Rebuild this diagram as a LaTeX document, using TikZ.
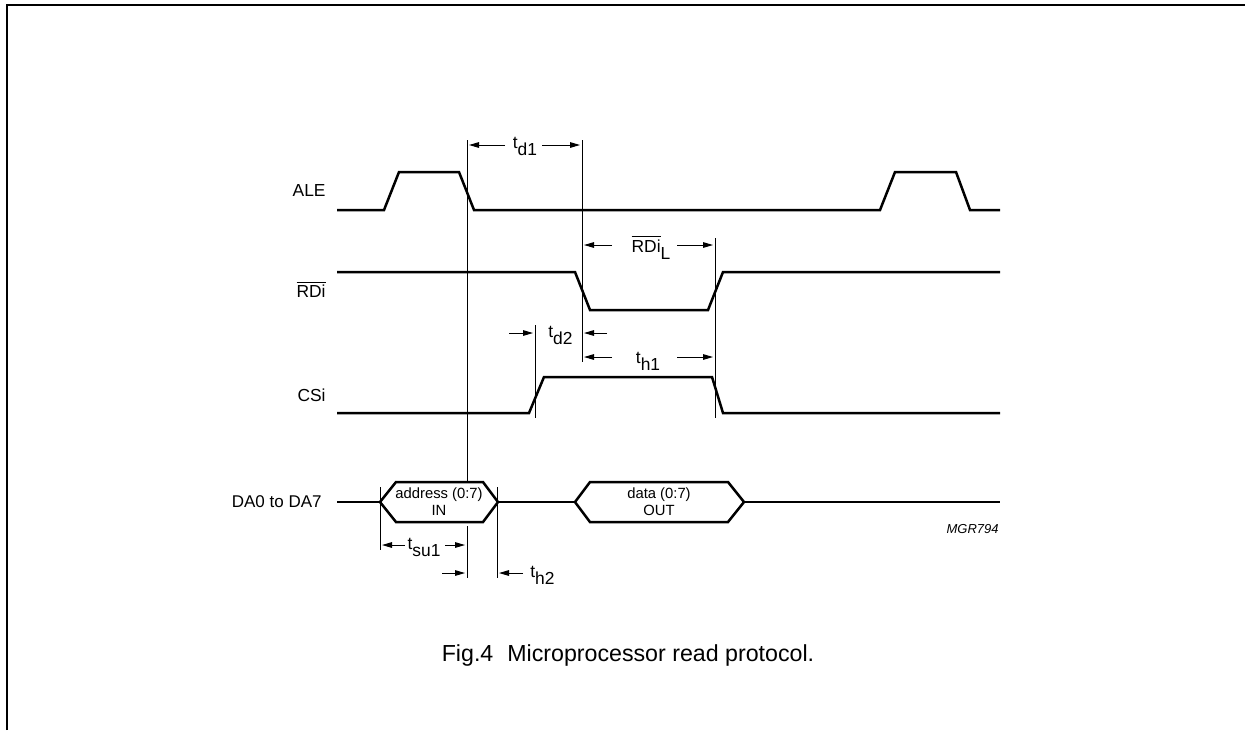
\documentclass[tikz,border=0pt]{standalone}
\usepackage{fontspec}
\setmainfont{Liberation Sans}
\usetikzlibrary{arrows.meta}
\newcommand\lowsub[1]{\raisebox{-0.42em}{#1}}
\begin{document}
\begin{tikzpicture}[x=0.5pt,y=-0.5pt,
  sig/.style={line width=1.25pt, line join=miter},
  guide/.style={line width=0.45pt},
  dim/.style={line width=0.5pt,-{Triangle[length=5pt,width=2.8pt]}},
  lab/.style={font=\fontsize{8.7}{10}\selectfont, inner sep=0pt},
  bus/.style={font=\fontsize{7.4}{8.6}\selectfont, inner sep=0pt, align=center},
  drawingid/.style={font=\fontsize{6.5}{8}\selectfont\itshape, inner sep=0pt},
  capt/.style={font=\fontsize{11.6}{13}\selectfont, inner sep=0pt}]
\useasboundingbox (0,0) rectangle (1245,730);
\draw[line width=1pt] (7,730) -- (7,5) -- (1245,5);

% signal names
\node[lab, anchor=east] (ale) at (326,191) {ALE};
\node[lab, anchor=east] (rdi) at (326,289) {$\overline{\mbox{RDi}}$};
\node[lab, anchor=east] (csi) at (326,395) {CSi};
\node[lab, anchor=east, font=\fontsize{8.5}{10}\selectfont] (da) at (322,502) {DA0 to DA7};

% waveforms
\draw[sig] (337,210) -- (384,210) -- (399,172) -- (459,172) -- (474,210) -- (880,210) -- (895,172) -- (956,172) -- (970,210) -- (1000,210);
\draw[sig] (337,272) -- (575,272) -- (590,310) -- (708,310) -- (723,272) -- (1000,272);
\draw[sig] (337,413) -- (529,413) -- (544,377) -- (712,377) -- (723,413) -- (1000,413);
\draw[sig] (337,502) -- (380,502);
\draw[sig] (380,502) -- (396,482) -- (483,482) -- (498,502) -- (483,522) -- (396,522) -- cycle;
\draw[sig] (498,502) -- (575,502);
\draw[sig] (575,502) -- (590,482) -- (728,482) -- (744,502) -- (728,522) -- (590,522) -- cycle;
\draw[sig] (744,502) -- (1000,502);
\node[bus] (addr) at (439,502) {address (0:7)\\IN};
\node[bus] (data) at (659,502) {data (0:7)\\OUT};

% guide lines
\draw[guide] (467,140) -- (467,482);
\draw[guide] (467,526) -- (467,578);
\draw[guide] (582,140) -- (582,362);
\draw[guide] (715,238) -- (715,418);
\draw[guide] (535,325) -- (535,418);
\draw[guide] (380,487) -- (380,550);
\draw[guide] (497,487) -- (497,578);

% timing arrows
\node[lab, anchor=base] (td1) at (525,148) {t\lowsub{d1}};
\draw[dim] (505,145) -- (469,145);
\draw[dim] (542,145) -- (580,145);

\node[lab, anchor=base] (rdil) at (651,252) {$\overline{\mbox{RDi}}$\lowsub{L}};
\draw[dim] (612,245) -- (584,245);
\draw[dim] (677,245) -- (713,245);

\node[lab, anchor=base] (th1) at (648,363) {t\lowsub{h1}};
\draw[dim] (612,357) -- (584,357);
\draw[dim] (677,357) -- (713,357);

\node[lab, anchor=base west] (td2) at (548,337) {t\lowsub{d2}};
\draw[dim] (509,333) -- (533,333);
\draw[dim] (607,333) -- (584,333);

\node[lab, anchor=base] (tsu1) at (424,549) {t\lowsub{su1}};
\draw[dim] (405,545) -- (382,545);
\draw[dim] (445,545) -- (465,545);

\node[lab, anchor=base west] (th2) at (530,577) {t\lowsub{h2}};
\draw[dim] (442,573) -- (465,573);
\draw[dim] (523,573) -- (499,573);

\node[drawingid, anchor=east] (mgr) at (999,529) {MGR794};
\node[capt] (cap) at (628,655) {Fig.4\hspace{0.6em}Microprocessor read protocol.};
\end{tikzpicture}
\end{document}
